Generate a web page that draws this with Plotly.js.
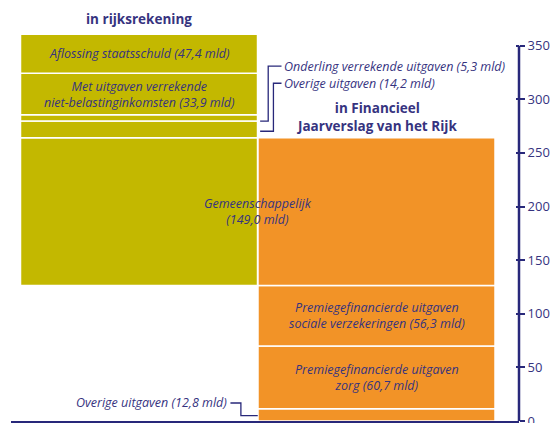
<!DOCTYPE html>
<html>
<head>
<meta charset="utf-8">
<script src="https://cdn.plot.ly/plotly-3.0.1.min.js"></script>
<style>html,body{margin:0;padding:0;background:#fff;}#chart{width:551px;height:423px;}</style>
</head>
<body>
<div id="chart"></div>
<script>
// Bar positions: 0 = "in rijksrekening", 1 = "in Financieel Jaarverslag van het Rijk"
const barTitleLeft = 'in rijksrekening';
const barTitleRight = 'in Financieel<br>Jaarverslag van het Rijk';

// Right bar (Financieel Jaarverslag), bottom to top, heights as drawn (mld euro)
const fjrLabels = ['Overige uitgaven (12,8 mld)',
  'Premiegefinancierde uitgaven<br>zorg (60,7 mld)',
  'Premiegefinancierde uitgaven<br>sociale verzekeringen (56,3 mld)'];
const fjrValues = [11.5, 58.4, 56.5];

// Shared segment
const gemeenLabel = 'Gemeenschappelijk<br>(149,0 mld)';
const gemeenValue = 137.8;

// Left bar (rijksrekening) above the shared segment, bottom to top
const rrLabels = ['Overige uitgaven (14,2 mld)',
  'Onderling verrekende uitgaven (5,3 mld)',
  'Met uitgaven verrekende<br>niet-belastinginkomsten (33,9 mld)',
  'Aflossing staatsschuld (47,4 mld)'];
const rrValues = [15.5, 5.9, 38.6, 36.5];

const tickVals = [0, 50, 100, 150, 200, 250, 300, 350];

const OLIVE = '#c3b800', ORANGE = '#f29327', NAVY = '#28287a', TXT = '#36337f';
const W = 0.998;
const line = {color: '#ffffff', width: 1.5};
const traces = [];

// right bar lower segments
let cum = 0;
const fjrBases = [];
fjrValues.forEach((v, i) => {
  fjrBases.push(cum);
  traces.push({type: 'bar', x: [1], y: [v], base: [cum], width: W,
    marker: {color: ORANGE, line: line}, hoverinfo: 'skip', showlegend: false});
  cum += v;
});
const premieTop = cum;
// shared segment on both bars
traces.push({type: 'bar', x: [0, 1], y: [gemeenValue, gemeenValue], base: [premieTop, premieTop], width: W,
  marker: {color: [OLIVE, ORANGE], line: line}, hoverinfo: 'skip', showlegend: false});
let cumL = premieTop + gemeenValue;
const rrBases = [];
rrValues.forEach((v) => {
  rrBases.push(cumL);
  traces.push({type: 'bar', x: [0], y: [v], base: [cumL], width: W,
    marker: {color: OLIVE, line: line}, hoverinfo: 'skip', showlegend: false});
  cumL += v;
});
const leftTop = cumL, rightTop = premieTop + gemeenValue;

const fontIt = {family: 'Open Sans, sans-serif', size: 12.5, color: TXT, style: 'italic'};
const fontB = {family: 'Open Sans, sans-serif', size: 13.5, color: TXT, weight: 'bold'};

const ann = [];
// bar titles
ann.push({x: 0, y: leftTop + 14, xref: 'x', yref: 'y', text: barTitleLeft, showarrow: false, font: fontB});
ann.push({x: 1, y: rightTop + 19.5, xref: 'x', yref: 'y', text: barTitleRight, showarrow: false, font: fontB, align: 'center'});
// labels inside segments
ann.push({x: 0, y: rrBases[3] + rrValues[3] / 2, xref: 'x', yref: 'y', text: rrLabels[3], showarrow: false, font: fontIt});
ann.push({x: 0, y: rrBases[2] + rrValues[2] / 2, xref: 'x', yref: 'y', text: rrLabels[2], showarrow: false, font: fontIt});
ann.push({x: 0.5, y: premieTop + gemeenValue / 2, xref: 'x', yref: 'y', text: gemeenLabel, showarrow: false, font: fontIt});
ann.push({x: 1, y: fjrBases[2] + fjrValues[2] / 2, xref: 'x', yref: 'y', text: fjrLabels[2], showarrow: false, font: fontIt});
ann.push({x: 1, y: fjrBases[1] + fjrValues[1] / 2, xref: 'x', yref: 'y', text: fjrLabels[1], showarrow: false, font: fontIt});
// external labels with leader lines
const yOnd = 331, yOv = 315, yOvR = 16.8;
ann.push({x: 0.6, y: yOnd, xref: 'x', yref: 'y', text: rrLabels[1], showarrow: false, xanchor: 'left', font: fontIt});
ann.push({x: 0.6, y: yOv, xref: 'x', yref: 'y', text: rrLabels[0], showarrow: false, xanchor: 'left', font: fontIt});
ann.push({x: 0.38, y: yOvR, xref: 'x', yref: 'y', text: fjrLabels[0], showarrow: false, xanchor: 'right', font: fontIt});

const lc = {color: NAVY, width: 1.3};
const shapes = [
  {type: 'path', xref: 'x', yref: 'y', line: lc,
   path: `M 0.51 ${rrBases[1]} L 0.544 ${rrBases[1]} L 0.544 ${yOnd} L 0.6 ${yOnd}`},
  {type: 'path', xref: 'x', yref: 'y', line: lc,
   path: `M 0.51 ${rrBases[0] + 6} L 0.566 ${rrBases[0] + 6} L 0.566 ${yOv} L 0.6 ${yOv}`},
  {type: 'path', xref: 'x', yref: 'y', line: lc,
   path: `M 0.385 ${yOvR} L 0.429 ${yOvR} L 0.429 ${fjrValues[0] / 2 - 0.8} L 0.5 ${fjrValues[0] / 2 - 0.8}`},
  // y axis line from 0 to 350
  {type: 'line', xref: 'paper', yref: 'y', x0: 1, x1: 1, y0: 0, y1: tickVals[tickVals.length - 1], line: {color: NAVY, width: 2.5}}
];

const layout = {
  width: 551, height: 423,
  margin: {l: 11, r: 32, t: 10, b: 2, pad: 0},
  paper_bgcolor: '#fff', plot_bgcolor: '#fff',
  barmode: 'overlay', bargap: 0,
  showlegend: false,
  xaxis: {range: [-0.539, 1.6], showgrid: false, zeroline: false, showticklabels: false, ticks: '',
    showline: true, linecolor: NAVY, linewidth: 3, fixedrange: true},
  yaxis: {range: [0, 383.3], side: 'right', showgrid: false, zeroline: false, showline: false,
    tickvals: tickVals, ticktext: tickVals.map(String), ticks: 'outside', ticklen: 5, tickwidth: 2, tickcolor: NAVY,
    ticklabeloverflow: 'allow',
    tickfont: {family: 'Open Sans, sans-serif', size: 13, color: TXT}, fixedrange: true},
  yaxis2: {range: [0, 383.3], overlaying: 'y', side: 'right', showgrid: false, zeroline: false, showline: false,
    tickvals: tickVals, ticks: 'inside', ticklen: 3, tickwidth: 2, tickcolor: NAVY, showticklabels: false},
  annotations: ann,
  shapes: shapes
};
// invisible trace to activate yaxis2
traces.push({type: 'scatter', x: [0], y: [0], yaxis: 'y2', mode: 'markers', marker: {opacity: 0}, hoverinfo: 'skip', showlegend: false});

Plotly.newPlot('chart', traces, layout, {displayModeBar: false, staticPlot: true});
</script>
</body>
</html>
